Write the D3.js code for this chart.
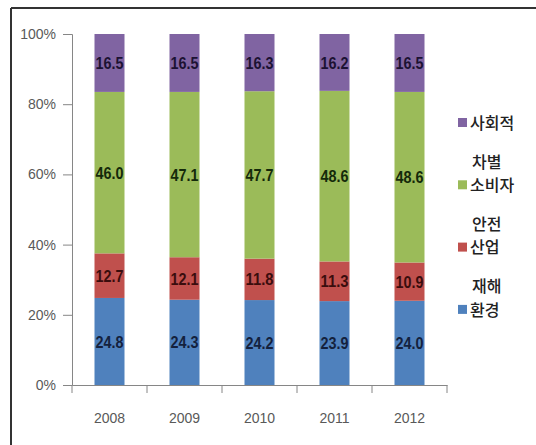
<!DOCTYPE html>
<html>
<head>
<meta charset="utf-8">
<script src="https://cdn.jsdelivr.net/npm/d3@7"></script>
<style>
  body { margin: 0; background: #fff; }
  .tick text { fill: #595959; }
</style>
</head>
<body>
<div id="chart"></div>
<script>
// data
var years = ["2008", "2009", "2010", "2011", "2012"]
var keys = ["환경", "산업재해", "소비자안전", "사회적차별"]
var env = [24.8, 24.3, 24.2, 23.9, 24.0]
var industry = [12.7, 12.1, 11.8, 11.3, 10.9]
var consumer = [46.0, 47.1, 47.7, 48.6, 48.6]
var social = [16.5, 16.5, 16.3, 16.2, 16.5]
var yTicks = [0, 20, 40, 60, 80, 100]

var colors = ["#4F81BD", "#C0504D", "#9BBB59", "#8064A2"]
var labelColors = ["#14213d", "#3a0d0d", "#14290a", "#1c1233"]

var rows = years.map(function(y, i) {
  return {year: y, "환경": env[i], "산업재해": industry[i], "소비자안전": consumer[i], "사회적차별": social[i]}
})

var width = 536, height = 445
var svg = d3.select("#chart").append("svg")
    .attr("width", width)
    .attr("height", height)

// frame
svg.append("line").attr("x1", 11).attr("x2", width).attr("y1", 8).attr("y2", 8)
    .attr("stroke", "#333").attr("stroke-width", 2)
svg.append("line").attr("x1", 11).attr("x2", 11).attr("y1", 8).attr("y2", height)
    .attr("stroke", "#333").attr("stroke-width", 2)

var x = d3.scaleBand()
    .domain(years)
    .range([72, 447])
    .paddingInner(0.6)
    .paddingOuter(0.3)

var y = d3.scaleLinear()
    .domain([0, 100])
    .range([385, 34])

var stack = d3.stack().keys(keys)(rows)

svg.selectAll("g.layer")
  .data(stack)
  .enter().append("g")
    .attr("class", "layer")
    .attr("fill", function(d, i) { return colors[i] })
  .selectAll("rect")
  .data(function(d) { return d })
  .enter().append("rect")
    .attr("x", function(d) { return x(d.data.year) })
    .attr("y", function(d) { return y(d[1]) })
    .attr("width", x.bandwidth())
    .attr("height", function(d) { return y(d[0]) - y(d[1]) })

// value labels (narrow look, squeezed into the bar)
stack.forEach(function(layer, i) {
  svg.selectAll("text.v" + i)
    .data(layer)
    .enter().append("text")
      .attr("class", "v" + i)
      .attr("x", function(d) { return x(d.data.year) + x.bandwidth() / 2 })
      .attr("y", function(d) { return y((d[0] + d[1]) / 2) })
      .attr("dy", "0.36em")
      .attr("text-anchor", "middle")
      .attr("textLength", 28)
      .attr("lengthAdjust", "spacingAndGlyphs")
      .style("font-family", "'Liberation Sans', sans-serif")
      .style("font-weight", "bold")
      .style("font-size", "17px")
      .attr("fill", labelColors[i])
      .text(function(d) { return (d[1] - d[0]).toFixed(1) })
})

// y axis
var yAxis = d3.axisLeft(y)
    .tickValues(yTicks)
    .tickSize(9)
    .tickPadding(7)
    .tickFormat(function(d) { return d + "%" })
var gy = svg.append("g")
    .attr("transform", "translate(72,0)")
    .call(yAxis)
gy.select(".domain").attr("stroke", "#868686")
gy.selectAll(".tick line").attr("stroke", "#868686")
gy.selectAll("text").style("font-family", "'Liberation Sans', sans-serif").style("font-size", "14px")

// x axis with ticks between categories
var gx = svg.append("g")
    .attr("transform", "translate(0,385)")
    .call(d3.axisBottom(x).tickSize(0).tickPadding(28))
gx.select(".domain").attr("stroke", "#868686")
gx.selectAll("text").style("font-family", "'Liberation Sans', sans-serif").style("font-size", "14px")
var step = x.step()
gx.selectAll("line.sep")
  .data(d3.range(years.length + 1))
  .enter().append("line")
    .attr("class", "sep")
    .attr("x1", function(i) { return 72 + i * step })
    .attr("x2", function(i) { return 72 + i * step })
    .attr("y1", 0).attr("y2", 8)
    .attr("stroke", "#868686")

// legend (labels wrap, second word sits above the next swatch)
var legendFirst = ["사회적", "소비자", "산업", "환경"]
var legendSecond = ["차별", "안전", "재해", ""]
var legendIdx = [3, 2, 1, 0]
var leg = svg.append("g").style("font-family", "'Noto Sans CJK KR', sans-serif").style("font-size", "16px").style("font-weight", "500")
legendFirst.forEach(function(t, i) {
  var cy = 123 + i * 62.3
  leg.append("rect")
    .attr("x", 458).attr("y", cy - 5)
    .attr("width", 9).attr("height", 9)
    .attr("fill", colors[legendIdx[i]])
  leg.append("text")
    .attr("x", 470).attr("y", cy).attr("dy", "0.36em")
    .attr("fill", "#222")
    .text(t)
  if (legendSecond[i]) {
    leg.append("text")
      .attr("x", 472).attr("y", cy + 39).attr("dy", "0.36em")
      .attr("fill", "#222")
      .text(legendSecond[i])
  }
})
</script>
</body>
</html>
